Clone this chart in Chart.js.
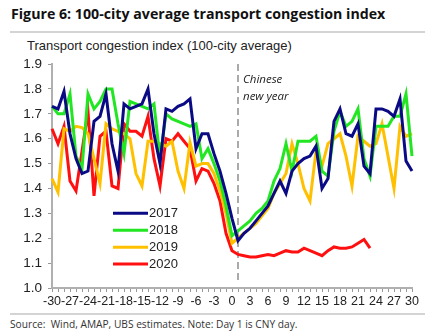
<!DOCTYPE html>
<html>
<head>
<meta charset="utf-8">
<script src="https://cdn.jsdelivr.net/npm/chart.js@4.4.1/dist/chart.umd.min.js"></script>
<style>
  body { margin: 0; width: 430px; height: 334px; background: #fff; position: relative; overflow: hidden; font-family: "Liberation Sans", Arial, sans-serif; }
  #title { position: absolute; left: 11px; top: 4px; font: bold 14.2px "Open Sans", sans-serif; color: #111; white-space: nowrap; }
  .rule { position: absolute; left: 10px; width: 415px; height: 2px; background: #d4d4d4; }
  #subtitle { position: absolute; left: 27px; top: 38px; font-size: 13px; color: #222; white-space: nowrap; }
  #wrap { position: absolute; left: 0; top: 50px; width: 430px; height: 263px; }
  #source { position: absolute; left: 10px; top: 317px; font: 10.2px "Open Sans", sans-serif; color: #333; white-space: nowrap; }
</style>
</head>
<body>
<div id="title">Figure 6: 100-city average transport congestion index</div>
<div class="rule" style="top:31px"></div>
<div id="subtitle">Transport congestion index (100-city average)</div>
<div id="wrap"><canvas id="congestion"></canvas></div>
<div class="rule" style="top:313px"></div>
<div id="source">Source:&nbsp; Wind, AMAP, UBS estimates. Note: Day 1 is CNY day.</div>

<script>
// days relative to Chinese new year
const days = [-30, -29, -28, -27, -26, -25, -24, -23, -22, -21, -20, -19, -18, -17, -16, -15,
  -14, -13, -12, -11, -10, -9, -8, -7, -6, -5, -4, -3, -2, -1, 0,
  1, 2, 3, 4, 5, 6, 7, 8, 9, 10, 11, 12, 13, 14, 15,
  16, 17, 18, 19, 20, 21, 22, 23, 24, 25, 26, 27, 28, 29, 30];

const y2017 = [1.73, 1.72, 1.79, 1.62, 1.52, 1.46, 1.47, 1.67, 1.69, 1.78, 1.58, 1.47, 1.74, 1.72, 1.73, 1.74,
  1.80, 1.62, 1.50, 1.72, 1.71, 1.73, 1.74, 1.76, 1.56, 1.62, 1.62, 1.54, 1.47, 1.38, 1.28,
  1.19, 1.22, 1.24, 1.27, 1.30, 1.33, 1.38, 1.43, 1.38, 1.47, 1.50, 1.52, 1.53, 1.57, 1.40,
  1.44, 1.67, 1.72, 1.62, 1.61, 1.66, 1.49, 1.46, 1.72, 1.72, 1.71, 1.69, 1.76, 1.51, 1.47];

const y2018 = [1.73, 1.70, 1.70, 1.78, 1.53, 1.48, 1.78, 1.72, 1.75, 1.80, 1.80, 1.66, 1.54, 1.75, 1.74, 1.73,
  1.72, 1.74, 1.52, 1.70, 1.68, 1.67, 1.66, 1.65, 1.66, 1.52, 1.56, 1.50, 1.43, 1.33, 1.21,
  1.23, 1.25, 1.27, 1.30, 1.32, 1.35, 1.43, 1.48, 1.58, 1.47, 1.59, 1.59, 1.59, 1.61, 1.47,
  1.45, 1.63, 1.71, 1.65, 1.67, 1.72, 1.52, 1.45, 1.65, 1.65, 1.65, 1.69, 1.69, 1.78, 1.53];

const y2019 = [1.44, 1.385, 1.64, 1.63, 1.65, 1.645, 1.62, 1.52, 1.42, 1.66, 1.64, 1.63, 1.62, 1.60, 1.46, 1.41,
  1.59, 1.59, 1.58, 1.57, 1.59, 1.47, 1.40, 1.585, 1.49, 1.50, 1.50, 1.46, 1.39, 1.30, 1.18,
  1.20, 1.22, 1.24, 1.26, 1.29, 1.32, 1.38, 1.42, 1.46, 1.58, 1.50, 1.40, 1.35, 1.55, 1.49,
  1.58, 1.60, 1.62, 1.53, 1.41, 1.61, 1.59, 1.57, 1.58, 1.66, 1.53, 1.40, 1.65, 1.61, 1.62];

const y2020 = [1.64, 1.58, 1.65, 1.43, 1.39, 1.55, 1.71, 1.37, 1.61, 1.63, 1.41, 1.40, 1.66, 1.63, 1.63, 1.61,
  1.69, 1.52, 1.41, 1.60, 1.59, 1.62, 1.59, 1.56, 1.43, 1.48, 1.47, 1.42, 1.35, 1.22, 1.15,
  1.135, 1.13, 1.125, 1.125, 1.13, 1.135, 1.13, 1.14, 1.15, 1.145, 1.145, 1.16, 1.15, 1.14, 1.13,
  1.15, 1.165, 1.16, 1.16, 1.165, 1.18, 1.195, 1.16];

const yTicks = [1.0, 1.1, 1.2, 1.3, 1.4, 1.5, 1.6, 1.7, 1.8, 1.9];

const cnyDay = 1;

const series = [
  { label: "2017", data: y2017, color: "#0a0a85" },
  { label: "2018", data: y2018, color: "#22e622" },
  { label: "2019", data: y2019, color: "#ffc000" },
  { label: "2020", data: y2020, color: "#ff1010" },
];

// dashed CNY marker plus its caption
const cnyLine = {
  id: "cnyLine",
  beforeDatasetsDraw(chart) {
    const { ctx, chartArea, scales } = chart;
    const x = scales.x.getPixelForValue(days.indexOf(cnyDay));
    ctx.save();
    ctx.strokeStyle = "#aaaaaa";
    ctx.lineWidth = 2;
    ctx.setLineDash([7, 4]);
    ctx.beginPath();
    ctx.moveTo(x, chartArea.top);
    ctx.lineTo(x, chartArea.bottom - 5);
    ctx.stroke();
    ctx.setLineDash([]);
    ctx.fillStyle = "#222";
    ctx.font = "italic 11.5px 'Open Sans', sans-serif";
    ctx.textBaseline = "alphabetic";
    ctx.fillText("Chinese", x + 5, scales.y.getPixelForValue(1.824));
    ctx.fillText("new year", x + 5, scales.y.getPixelForValue(1.756));
    ctx.restore();
  },
};

// legend block inside the plot, stacked from 1.30 downwards
const insideLegend = {
  id: "insideLegend",
  afterDatasetsDraw(chart) {
    const { ctx, chartArea, scales } = chart;
    ctx.save();
    ctx.font = "13px 'Liberation Sans', Arial, sans-serif";
    ctx.textBaseline = "middle";
    series.forEach((s, i) => {
      const y = scales.y.getPixelForValue(1.30 - i * 0.068);
      const x0 = chartArea.left + 61;
      ctx.strokeStyle = s.color;
      ctx.lineWidth = 3;
      ctx.beginPath();
      ctx.moveTo(x0, y);
      ctx.lineTo(x0 + 35, y);
      ctx.stroke();
      ctx.fillStyle = "#222";
      ctx.fillText(s.label, x0 + 36, y);
    });
    ctx.restore();
  },
};

new Chart(document.getElementById("congestion"), {
  type: "line",
  data: {
    labels: days,
    datasets: series.map((s) => ({
      label: s.label,
      data: s.data,
      borderColor: s.color,
      backgroundColor: s.color,
      borderWidth: 3,
      pointRadius: 0,
      tension: 0,
      clip: false,
    })),
  },
  options: {
    responsive: true,
    maintainAspectRatio: false,
    animation: false,
    layout: { padding: { top: 3, right: 18, bottom: 0, left: 0 } },
    plugins: {
      legend: { display: false },
      tooltip: { enabled: false },
    },
    scales: {
      x: {
        type: "category",
        offset: false,
        grid: { drawOnChartArea: false, color: "#999", tickLength: 4, tickWidth: 1 },
        border: { color: "#b0b0b0", width: 2 },
        ticks: {
          autoSkip: false,
          maxRotation: 0,
          minRotation: 0,
          padding: 2,
          color: "#222",
          font: { family: "'Liberation Sans', Arial, sans-serif", size: 12.5 },
          callback: (v, i) => (i % 3 === 0 ? String(days[i]) : ""),
        },
        afterFit: (scale) => { scale.height = 25; },
      },
      y: {
        min: 1.0,
        max: 1.9,
        afterBuildTicks: (scale) => { scale.ticks = yTicks.map((v) => ({ value: v })); },
        grid: { drawOnChartArea: false, color: "#999", tickLength: 4 },
        border: { color: "#b0b0b0", width: 2 },
        ticks: {
          padding: 6,
          color: "#222",
          font: { family: "'Liberation Sans', Arial, sans-serif", size: 13.5 },
          callback: (v) => Number(v).toFixed(1),
        },
        afterFit: (scale) => { scale.width = 52; },
      },
    },
  },
  plugins: [cnyLine, insideLegend],
});
</script>
</body>
</html>
